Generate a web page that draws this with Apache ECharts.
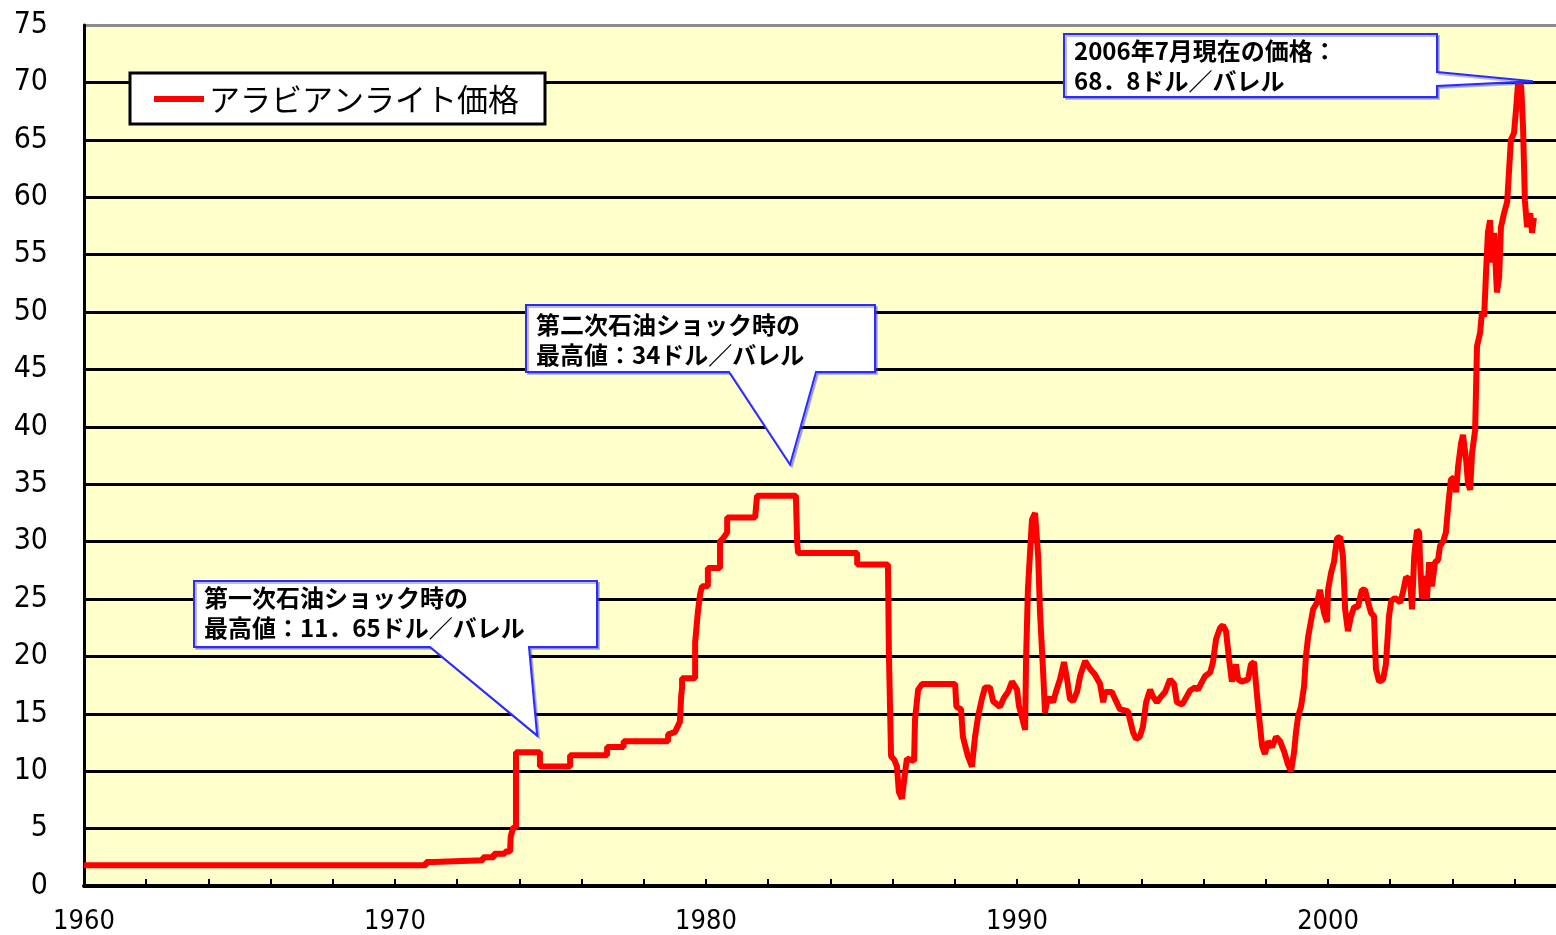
<!DOCTYPE html>
<html>
<head>
<meta charset="utf-8">
<script src="https://cdn.jsdelivr.net/npm/echarts@6/dist/echarts.min.js"></script>
<style>
  html, body { margin: 0; padding: 0; background: #fff; }
  #oilChart { width: 1556px; height: 935px; }
</style>
</head>
<body>
<div id="oilChart"></div>
<script>
// Arabian Light price, USD / barrel (decimal year, price)
const years = [
  1960.00, 1971.00, 1971.00, 1971.25, 1971.25, 1972.83, 1972.83, 1973.18, 1973.18, 1973.54,
  1973.54, 1973.70, 1973.72, 1973.80, 1973.89, 1973.89, 1974.66, 1974.66, 1975.63, 1975.63,
  1976.82, 1976.82, 1977.35, 1977.35, 1978.78, 1978.78, 1979.00, 1979.16, 1979.20, 1979.23,
  1979.23, 1979.65, 1979.65, 1979.74, 1979.81, 1979.87, 1980.06, 1980.06, 1980.45, 1980.45,
  1980.55, 1980.68, 1980.68, 1981.58, 1981.64, 1982.89, 1982.93, 1982.96, 1984.86, 1984.86,
  1985.85, 1985.88, 1985.95, 1986.05, 1986.14, 1986.20, 1986.30, 1986.40, 1986.46, 1986.69,
  1986.72, 1986.82, 1986.95, 1988.01, 1988.05, 1988.20, 1988.26, 1988.42, 1988.55, 1988.65,
  1988.75, 1988.87, 1988.97, 1989.13, 1989.23, 1989.45, 1989.58, 1989.71, 1989.84, 1990.00,
  1990.06, 1990.16, 1990.26, 1990.29, 1990.35, 1990.42, 1990.48, 1990.58, 1990.68, 1990.74,
  1990.84, 1990.90, 1990.96, 1991.06, 1991.16, 1991.25, 1991.38, 1991.51, 1991.61, 1991.70,
  1991.80, 1991.93, 1992.03, 1992.19, 1992.35, 1992.51, 1992.67, 1992.77, 1992.83, 1993.05,
  1993.15, 1993.31, 1993.57, 1993.63, 1993.73, 1993.83, 1993.95, 1994.05, 1994.15, 1994.28,
  1994.37, 1994.50, 1994.60, 1994.76, 1994.92, 1995.05, 1995.14, 1995.31, 1995.56, 1995.72,
  1995.82, 1995.95, 1996.05, 1996.21, 1996.30, 1996.40, 1996.53, 1996.62, 1996.72, 1996.82,
  1996.91, 1997.04, 1997.11, 1997.23, 1997.43, 1997.52, 1997.62, 1997.68, 1997.78, 1997.88,
  1997.97, 1998.07, 1998.20, 1998.33, 1998.46, 1998.59, 1998.71, 1998.81, 1998.91, 1998.97,
  1999.04, 1999.13, 1999.23, 1999.29, 1999.36, 1999.42, 1999.52, 1999.65, 1999.74, 1999.87,
  1999.97, 2000.00, 2000.10, 2000.19, 2000.29, 2000.39, 2000.48, 2000.55, 2000.64, 2000.74,
  2000.84, 2000.96, 2001.09, 2001.19, 2001.29, 2001.38, 2001.48, 2001.54, 2001.64, 2001.77,
  2001.86, 2001.96, 2002.03, 2002.15, 2002.32, 2002.41, 2002.51, 2002.64, 2002.70, 2002.77,
  2002.86, 2002.93, 2002.96, 2003.02, 2003.09, 2003.18, 2003.25, 2003.34, 2003.44, 2003.54,
  2003.60, 2003.70, 2003.79, 2003.86, 2003.95, 2004.05, 2004.12, 2004.18, 2004.28, 2004.34,
  2004.44, 2004.50, 2004.57, 2004.63, 2004.73, 2004.79, 2004.89, 2004.95, 2005.02, 2005.08,
  2005.14, 2005.21, 2005.27, 2005.34, 2005.43, 2005.50, 2005.56, 2005.66, 2005.76, 2005.82,
  2005.88, 2005.98, 2006.05, 2006.11, 2006.21, 2006.27, 2006.33, 2006.40, 2006.50, 2006.56,
  2006.62
];
const prices = [
  1.8, 1.8, 2.1, 2.1, 2.25, 2.25, 2.5, 2.5, 2.8, 2.8,
  3.0, 3.0, 4.3, 5.1, 5.1, 11.65, 11.65, 10.4, 10.4, 11.4,
  11.4, 12.1, 12.1, 12.6, 12.6, 13.2, 13.4, 14.3, 16.5, 17.3,
  18.1, 18.1, 21.2, 23.9, 25.4, 26.1, 26.1, 27.7, 27.7, 30.0,
  30.3, 30.8, 32.1, 32.1, 34.0, 34.0, 30.0, 29.0, 29.0, 28.0,
  28.0, 20.3, 11.3, 11.0, 10.4, 8.2, 7.6, 9.9, 11.1, 10.9,
  14.5, 17.1, 17.6, 17.6, 15.6, 15.4, 13.0, 11.3, 10.4, 13.0,
  14.8, 16.3, 17.3, 17.3, 16.1, 15.6, 16.4, 16.9, 17.8, 17.1,
  15.7, 14.7, 13.6, 19.7, 25.8, 29.1, 31.9, 32.5, 28.7, 23.8,
  18.6, 15.1, 16.0, 16.4, 16.0, 16.9, 18.0, 19.5, 18.0, 16.3,
  16.1, 16.9, 18.3, 19.6, 18.9, 18.4, 17.6, 16.0, 16.9, 16.9,
  16.3, 15.4, 15.2, 14.5, 13.4, 12.8, 13.0, 13.9, 16.0, 17.1,
  16.5, 16.0, 16.4, 16.9, 18.0, 17.6, 16.0, 15.8, 17.0, 17.3,
  17.1, 17.8, 18.3, 18.6, 19.5, 21.5, 22.5, 22.7, 22.2, 19.7,
  17.8, 19.3, 18.0, 17.8, 18.0, 19.3, 19.5, 17.7, 14.8, 12.2,
  11.5, 12.6, 12.1, 13.0, 12.6, 11.7, 10.6, 10.0, 11.7, 13.4,
  14.8, 15.6, 17.4, 20.0, 21.7, 22.6, 24.1, 24.7, 25.8, 23.8,
  23.0, 25.8, 27.3, 28.2, 30.3, 30.4, 28.7, 24.1, 22.2, 23.5,
  24.3, 24.3, 25.8, 25.8, 24.7, 23.8, 23.5, 18.9, 17.8, 18.0,
  19.3, 23.5, 24.8, 25.1, 24.7, 25.6, 26.9, 26.7, 24.1, 28.7,
  31.0, 30.8, 28.3, 25.0, 27.0, 25.0, 28.2, 26.1, 28.2, 28.4,
  29.6, 30.0, 30.8, 33.0, 35.4, 35.6, 34.3, 36.5, 38.6, 39.3,
  37.1, 35.1, 34.5, 37.7, 39.7, 47.0, 48.2, 50.0, 49.6, 53.4,
  56.9, 58.0, 54.3, 56.9, 51.7, 53.0, 57.4, 58.6, 59.6, 62.3,
  65.0, 65.6, 67.8, 69.9, 69.7, 66.1, 59.7, 57.4, 58.6, 56.9,
  58.2
];

const seriesName = 'アラビアンライト価格';
const yTicks = [0, 75, 5];          // min, max, step
const xRange = [1960, 2007.33, 2];  // min, max, tick step

// callout texts and the data points they point at
const noteTexts = [
  '第一次石油ショック時の\n最高値：11．65ドル／バレル',
  '第二次石油ショック時の\n最高値：34ドル／バレル',
  '2006年7月現在の価格：\n68．8ドル／バレル'
];
const noteTargets = [[1974.57, 13.1], [1982.70, 36.7], [2006.59, 70.1]];

var chartDom = document.getElementById('oilChart');
var myChart = echarts.init(chartDom);

const lineData = years.map((y, i) => [y, prices[i]]);

// last split line (the top one) is grey, the rest black
const splitColors = [];
for (let v = yTicks[0]; v <= yTicks[1]; v += yTicks[2]) {
  splitColors.push(v === yTicks[1] ? '#8c8c8c' : '#000');
}

var option = {
  animation: false,
  backgroundColor: '#fff',
  grid: {
    left: 84, right: 0, top: 25, bottom: 48,
    show: true,
    backgroundColor: '#ffffcc',
    borderWidth: 0
  },
  legend: {
    left: 130, top: 73,
    orient: 'horizontal',
    backgroundColor: '#fff',
    borderColor: '#000',
    borderWidth: 3,
    borderRadius: 0,
    padding: [10, 26, 9, 24],
    itemWidth: 50,
    itemHeight: 6,
    itemGap: 9,
    icon: 'rect',
    data: [seriesName],
    textStyle: {
      fontFamily: '"Noto Sans CJK JP", sans-serif',
      fontSize: 31,
      color: '#000',
      lineHeight: 32
    }
  },
  xAxis: {
    type: 'value',
    min: xRange[0],
    max: xRange[1],
    interval: xRange[2],
    splitLine: { show: false },
    axisLine: { show: true, onZero: false, lineStyle: { color: '#000', width: 4 } },
    axisTick: { show: true, inside: true, length: 7, lineStyle: { color: '#000', width: 2 } },
    axisLabel: {
      showMaxLabel: false,
      margin: 22,
      color: '#000',
      fontFamily: '"Liberation Sans Narrow", "DejaVu Sans Condensed", sans-serif',
      fontSize: 27,
      formatter: v => (v % 10 === 0 ? String(v) : '')
    }
  },
  yAxis: {
    type: 'value',
    min: yTicks[0],
    max: yTicks[1],
    interval: yTicks[2],
    axisLine: { show: true, lineStyle: { color: '#000', width: 3 } },
    axisTick: { show: false },
    splitLine: { show: true, lineStyle: { color: splitColors, width: 3 } },
    axisLabel: {
      margin: 36,
      color: '#000',
      fontFamily: '"Liberation Sans Narrow", "DejaVu Sans Condensed", sans-serif',
      fontSize: 30
    }
  },
  series: [
    {
      name: seriesName,
      type: 'line',
      data: lineData,
      showSymbol: false,
      symbol: 'none',
      smooth: false,
      clip: true,
      color: '#ff0000',
      lineStyle: { color: '#ff0000', width: 6, join: 'bevel' },
      z: 3
    }
  ]
};

myChart.setOption(option);

// callout boxes (layout in px), the pointer tip comes from the data point
const boxes = [
  { x0: 194, y0: 581, x1: 597, y1: 647, side: 'bottom', b0: 430, b1: 529, tx: 204, ty: 583 },
  { x0: 526, y0: 305, x1: 875, y1: 372, side: 'bottom', b0: 729, b1: 816, tx: 536, ty: 310 },
  { x0: 1064, y0: 34, x1: 1437, y1: 97, side: 'right', b0: 72, b1: 86, tx: 1074, ty: 36 }
];

const graphics = [];
boxes.forEach((b, i) => {
  const tip = myChart.convertToPixel({ gridIndex: 0 }, noteTargets[i]);
  let pts;
  if (b.side === 'bottom') {
    pts = [[b.x0, b.y0], [b.x1, b.y0], [b.x1, b.y1], [b.b1, b.y1], tip, [b.b0, b.y1], [b.x0, b.y1]];
  } else {
    pts = [[b.x0, b.y0], [b.x1, b.y0], [b.x1, b.b0], tip, [b.x1, b.b1], [b.x1, b.y1], [b.x0, b.y1]];
  }
  graphics.push({
    type: 'polygon',
    z: 100,
    shape: { points: pts },
    style: {
      fill: '#fff',
      stroke: '#2b2bff',
      lineWidth: 2,
      shadowColor: 'rgba(60,60,200,0.35)',
      shadowOffsetX: 2,
      shadowOffsetY: 2,
      shadowBlur: 0
    }
  });
  graphics.push({
    type: 'text',
    z: 101,
    x: b.tx,
    y: b.ty,
    style: {
      text: noteTexts[i],
      fill: '#000',
      fontFamily: '"Noto Sans CJK JP", sans-serif',
      fontSize: 24,
      fontWeight: 'bold',
      lineHeight: 30
    }
  });
});

myChart.setOption({ graphic: graphics });
</script>
</body>
</html>
